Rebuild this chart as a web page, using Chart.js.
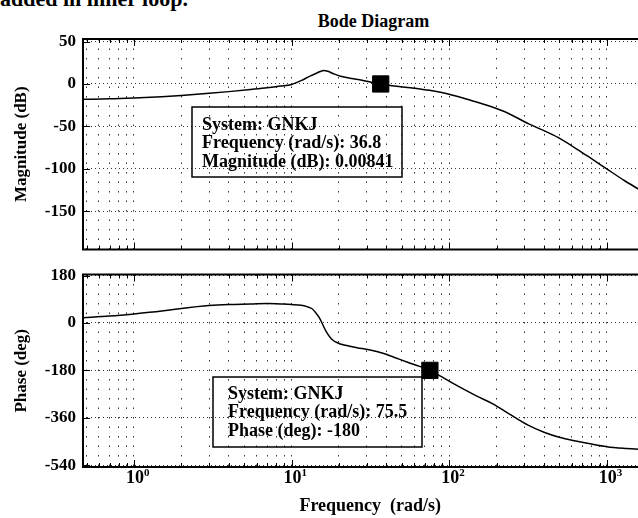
<!DOCTYPE html>
<html lang="en">
<head>
<meta charset="UTF-8">
<title>Bode Diagram</title>
<script src="https://cdn.jsdelivr.net/npm/chart.js"></script>
<style>
  html, body { margin: 0; padding: 0; background: #fff; overflow: hidden; }
  #page { position: relative; width: 638px; height: 518px; overflow: hidden;
          font-family: "Liberation Serif", serif; font-weight: bold; color: #000; }
  #note { position: absolute; left: 0; top: -12px; font-size: 22px; line-height: 22px; white-space: nowrap; }
  #title { position: absolute; left: 80px; width: 587px; top: 12px; text-align: center;
           font-size: 18px; line-height: 18px; }
  canvas { position: absolute; left: 0; }
  #mag { top: 0; }
  #phase { top: 262px; }
</style>
</head>
<body>
<div id="page">
  <div id="note">added in inner loop.</div>
  <div id="title">Bode Diagram</div>
  <canvas id="mag" width="670" height="262"></canvas>
  <canvas id="phase" width="670" height="256"></canvas>
</div>

<script>
// Values
const magFreq = [0.47, 0.7, 1, 1.5, 2, 3, 4, 5.5, 7, 8.5, 10, 11.5, 13, 14.5, 16, 17, 18.5, 20.5, 24, 28, 32, 36.8,
                 45, 60, 75, 100, 130, 180, 240, 320, 400, 490, 650, 800, 1000, 1300, 1700, 2100];
const magDb = [-18, -17.5, -16.5, -15, -13.5, -11, -9, -6.5, -4.5, -2.5, -0.5, 4, 9, 13, 16, 15, 12, 9, 6.5, 4.5, 2, 0,
               -2.5, -5, -7.5, -12, -18, -26, -35, -47, -55, -63, -77, -88, -100, -114, -127, -137];

const phaseFreq = [0.47, 0.7, 1, 1.5, 2, 3, 4, 5.5, 7, 8.5, 10, 11.5, 12.5, 13.5, 14.2, 15, 16.5, 18, 20, 22, 26, 31,
                   38, 45, 55, 65, 75.5, 90, 117, 150, 188, 240, 317, 400, 500, 624, 800, 1000, 1340, 1700, 2100];
const phaseDeg = [20, 26, 34, 45, 55, 66, 70, 72, 74, 72, 70, 67, 62, 54, 40, 20, -30, -62, -78, -85, -94, -102,
                  -115, -131, -150, -165, -180, -205, -244, -278, -306, -345, -388, -415, -434, -447, -460, -470,
                  -477, -481, -483];

// data tips: [frequency, value]
const magMarker = [36.8, 0.00841];
const phaseMarker = [75.5, -180];

const decades = [1, 10, 100, 1000];
const exponents = [0, 1, 2, 3];
const magTicks = [50, 0, -50, -100, -150];
const phaseTicks = [180, 0, -180, -360, -540];

const xMin = 0.475, xMax = 2100;

// minor + major log grid positions
const gridVals = [];
[0.1, ...decades].forEach(d => {
  for (let m = 1; m <= 9; m++) {
    const v = d * m;
    if (v >= xMin && v <= xMax) gridVals.push(v);
  }
});

const serif = '"Liberation Serif", "Times New Roman", serif';
const gridColor = 'rgba(0,0,0,0.8)';

// frame, inward ticks, data tip boxes and 10^n labels, matlab style
const framePlugin = {
  id: 'frame',
  afterDraw(chart, args, opts) {
    const { ctx, chartArea: a, scales } = chart;
    const x = scales.x, y = scales.y;
    ctx.save();
    ctx.strokeStyle = '#000';
    ctx.fillStyle = '#000';
    ctx.lineWidth = 1;
    ctx.beginPath();
    x.ticks.forEach(t => {
      const px = Math.round(x.getPixelForValue(t.value)) + 0.5;
      const len = decades.includes(t.value) ? 7 : 4;
      ctx.moveTo(px, a.top); ctx.lineTo(px, a.top + len);
      ctx.moveTo(px, a.bottom); ctx.lineTo(px, a.bottom - len);
    });
    y.ticks.forEach(t => {
      const py = Math.round(y.getPixelForValue(t.value)) + 0.5;
      ctx.moveTo(a.left, py); ctx.lineTo(a.left + 7, py);
    });
    ctx.stroke();
    ctx.lineWidth = 2;
    ctx.strokeRect(a.left, a.top, a.right - a.left, a.bottom - a.top);

    if (opts.tip) {
      const t = opts.tip;
      ctx.lineWidth = 1.5;
      ctx.strokeRect(t.box[0], t.box[1], t.box[2], t.box[3]);
      ctx.font = 'bold 18px ' + serif;
      ctx.textAlign = 'left';
      ctx.textBaseline = 'alphabetic';
      t.lines.forEach((s, i) => ctx.fillText(s, t.textX, t.textY + i * 18.3));
    }

    if (opts.expLabels) {
      decades.forEach((d, i) => {
        const px = x.getPixelForValue(d);
        ctx.font = 'bold 18px ' + serif;
        ctx.textAlign = 'right';
        ctx.fillText('10', px + 10, a.bottom + 16);
        ctx.font = 'bold 11px ' + serif;
        ctx.textAlign = 'left';
        ctx.fillText(String(exponents[i]), px + 10, a.bottom + 9);
      });
    }
    ctx.restore();
  }
};

function xScale(height, showTitle) {
  return {
    type: 'logarithmic',
    min: xMin,
    max: xMax,
    afterBuildTicks: s => { s.ticks = gridVals.map(v => ({ value: v })); },
    afterFit: s => { s.height = height; s.paddingLeft = 0; s.paddingRight = 0; },
    ticks: { display: false },
    grid: { color: gridColor, lineWidth: 1, drawTicks: false },
    border: { display: false, dash: [1.5, 8] },
    title: {
      display: showTitle,
      text: 'Frequency  (rad/s)',
      color: '#000',
      font: { family: serif, size: 18, weight: 'bold' },
      padding: { top: 0, bottom: 1 }
    }
  };
}

function yScale(min, max, ticks, label) {
  return {
    type: 'linear',
    min: min,
    max: max,
    afterBuildTicks: s => { s.ticks = ticks.map(v => ({ value: v })); },
    afterFit: s => { s.width = 83; s.paddingTop = 0; s.paddingBottom = 0; },
    ticks: { color: '#000', padding: 7, font: { family: serif, size: 17, weight: 'bold' } },
    grid: { color: gridColor, lineWidth: 1, drawTicks: false },
    border: { display: false, dash: [1, 3] },
    title: {
      display: true,
      text: label,
      color: '#000',
      font: { family: serif, size: 17, weight: 'bold' },
      padding: { top: 11, bottom: 0 }
    }
  };
}

function curve(freqs, vals) {
  return {
    data: freqs.map((f, i) => ({ x: f, y: vals[i] })),
    borderColor: '#000',
    borderWidth: 1.5,
    pointRadius: 0,
    cubicInterpolationMode: 'monotone'
  };
}

function marker(m) {
  return {
    data: [{ x: m[0], y: m[1] }],
    showLine: false,
    pointStyle: 'rect',
    pointRadius: 11.5,
    backgroundColor: '#000',
    borderColor: '#000'
  };
}

const common = {
  responsive: false,
  animation: false,
  events: [],
  plugins: { legend: { display: false }, tooltip: { enabled: false } }
};

new Chart(document.getElementById('mag'), {
  type: 'line',
  data: { datasets: [curve(magFreq, magDb), marker(magMarker)] },
  options: {
    ...common,
    layout: { padding: { top: 39, left: 0, right: 0, bottom: 0 } },
    scales: {
      x: xScale(5, false),
      y: yScale(-195, 53, magTicks, 'Magnitude (dB)')
    },
    plugins: {
      ...common.plugins,
      frame: {
        tip: {
          box: [192, 107, 210, 70],
          textX: 202,
          textY: 130,
          lines: ['System: GNKJ', 'Frequency (rad/s): ' + magMarker[0], 'Magnitude (dB): ' + magMarker[1]]
        }
      }
    }
  },
  plugins: [framePlugin]
});

new Chart(document.getElementById('phase'), {
  type: 'line',
  data: { datasets: [curve(phaseFreq, phaseDeg), marker(phaseMarker)] },
  options: {
    ...common,
    layout: { padding: { top: 11, left: 0, right: 0, bottom: 0 } },
    scales: {
      x: xScale(51, true),
      y: yScale(-547, 184, phaseTicks, 'Phase (deg)')
    },
    plugins: {
      ...common.plugins,
      frame: {
        expLabels: true,
        tip: {
          box: [213, 115, 209, 70],
          textX: 228,
          textY: 137,
          lines: ['System: GNKJ', 'Frequency (rad/s): ' + phaseMarker[0], 'Phase (deg): ' + phaseMarker[1]]
        }
      }
    }
  },
  plugins: [framePlugin]
});
</script>
</body>
</html>
